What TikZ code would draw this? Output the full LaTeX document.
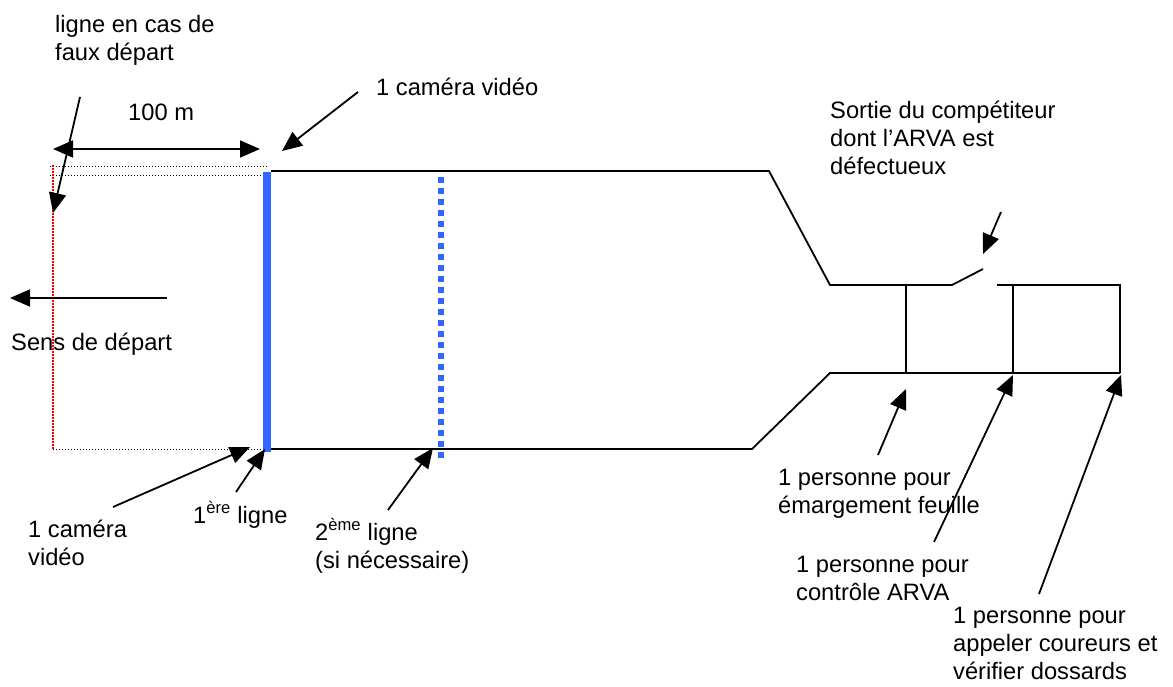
\documentclass[tikz,border=0pt]{standalone}
\usepackage{fontspec}
\setmainfont{Liberation Sans}
\usetikzlibrary{arrows.meta}
\definecolor{bleu}{RGB}{51,102,255}
\begin{document}
\begin{tikzpicture}[x=1pt,y=-1pt]
        \tikzstyle{every node}=[inner sep=0pt, anchor=base west, align=left, font=\fontsize{23.7}{28}\selectfont]
        \tikzstyle{fleche}=[line width=1.8pt, -{Triangle[length=20pt,width=17pt]}]
        \tikzstyle{mur}=[line width=1.8pt]
        \tikzstyle{pointille}=[line width=1pt, dash pattern=on 1pt off 2pt]
        \useasboundingbox (0,0) rectangle (1173,686);

        % zone de depart
        \draw [pointille] (50,166) -- (267,166) (50,175) -- (263,175) (53,449) -- (265,449);
        \draw [red, line width=1.5pt, dash pattern=on 1.5pt off 1.5pt] (53,165) -- (53,449);
        \draw [bleu, line width=8pt] (267,172) -- (267,452);
        \draw [bleu, line width=6pt, dash pattern=on 6pt off 5pt] (441,177) -- (441,458);

        % couloir
        \draw [mur] (271,171) -- (769,171) -- (830,285) -- (952,285) -- (983,269)
          (997,285) -- (1120,285) -- (1120,373)
          (271,449) -- (752,449) -- (830,373) -- (1120,373)
          (906,285) -- (906,373)
          (1013,285) -- (1013,373);

        % textes (base = derniere ligne)
        \path (55,60) node (t0) {ligne en cas de\\faux départ};
        \path (128,120) node (t1) {100 m};
        \path (376,95) node (t2) {1 caméra vidéo};
        \path (830,174) node (t3) {Sortie du compétiteur\\dont l’ARVA est\\défectueux};
        \path (11,350) node (t4) {Sens de départ};
        \path (28,565) node (t5) {1 caméra\\vidéo};
        \path (193,523) node (t6) {1\textsuperscript{ère} ligne};
        \path (315,568) node (t7) {2\textsuperscript{ème} ligne\\(si nécessaire)};
        \path (778,513) node (t8) {1 personne pour\\émargement feuille};
        \path (796,600) node (t9) {1 personne pour\\contrôle ARVA};
        \path (953,679) node (t10) {1 personne pour\\appeler coureurs et\\vérifier dossards};

        % fleches
        \coordinate (p0) at (80,97);    \coordinate (q0) at (53,213);
        \coordinate (p1) at (358,92);   \coordinate (q1) at (282,151);
        \coordinate (p2) at (167,298);  \coordinate (q2) at (10,298);
        \coordinate (p3) at (113,507);  \coordinate (q3) at (250,447);
        \coordinate (p4) at (236,492);  \coordinate (q4) at (265,449);
        \coordinate (p5) at (388,510);  \coordinate (q5) at (433,448);
        \coordinate (p6) at (1001,212); \coordinate (q6) at (983,254);
        \coordinate (p7) at (878,455);  \coordinate (q7) at (906,389);
        \coordinate (p8) at (934,542);  \coordinate (q8) at (1013,375);
        \coordinate (p9) at (1039,594); \coordinate (q9) at (1121,375);
        \foreach \i in {0, ..., 9}
        {
          \draw [fleche] (p\i) -- (q\i);
        }

        \coordinate (m0) at (53,149);
        \coordinate (m1) at (260,149);
        \draw [fleche, {Triangle[length=20pt,width=17pt]}-{Triangle[length=20pt,width=17pt]}] (m0) -- (m1);
      \end{tikzpicture}
\end{document}
